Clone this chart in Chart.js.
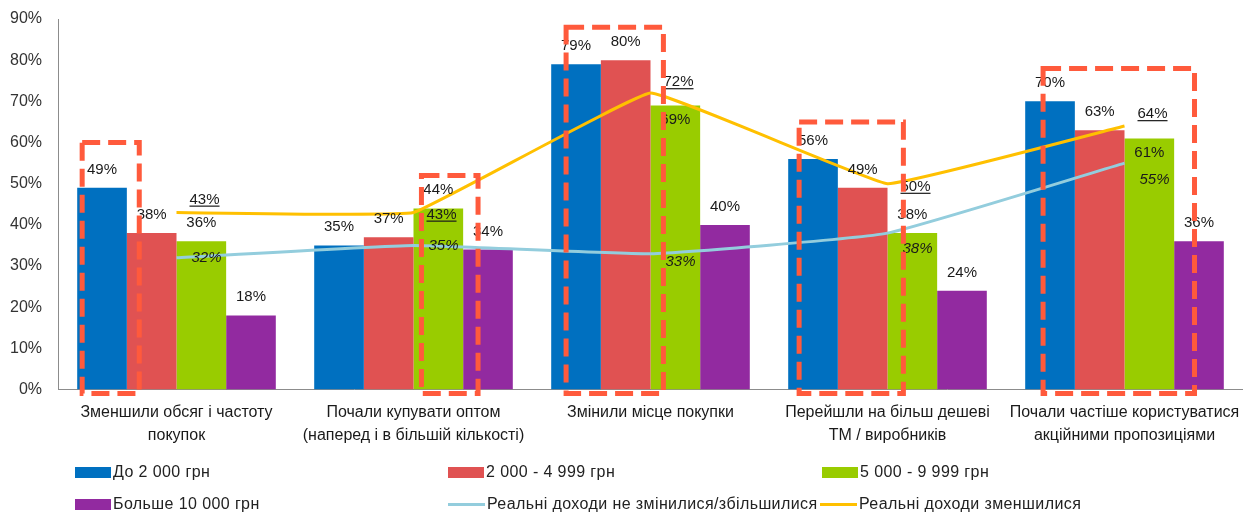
<!DOCTYPE html>
<html>
<head>
<meta charset="utf-8">
<script src="https://cdn.jsdelivr.net/npm/chart.js@4.4.0/dist/chart.umd.min.js"></script>
<style>
  body { margin: 0; background: #fff; font-family: "Liberation Sans", Arial, sans-serif; }
  #wrap { position: relative; width: 1243px; height: 514px; overflow: hidden; }
  #chartBox { position: absolute; left: 0; top: 0; width: 1243px; height: 462px; }
  #legend { position: absolute; left: 0; top: 0; width: 1243px; height: 514px; pointer-events: none; }
  .item { position: absolute; display: flex; align-items: center; font-size: 16px; letter-spacing: 0.4px; color: #222; white-space: nowrap; height: 20px; }
  .sw { display: inline-block; width: 36px; height: 11px; margin-right: 2px; }
  .ln { display: inline-block; width: 37px; height: 3px; margin-right: 2px; }
</style>
</head>
<body>
<div id="wrap">
  <div id="chartBox"><canvas id="chart"></canvas></div>
  <div id="legend"></div>
</div>
<script>
// categories and tick labels
const categories = [
  ["Зменшили обсяг і частоту", "покупок"],
  ["Почали купувати оптом", "(наперед і в більшій кількості)"],
  ["Змінили місце покупки"],
  ["Перейшли на більш дешеві", "ТМ / виробників"],
  ["Почали частіше користуватися", "акційними пропозиціями"]
];
const yTicks = [0, 10, 20, 30, 40, 50, 60, 70, 80, 90];

// series (percent)
const seriesNames = ["До 2 000 грн", "2 000 - 4 999 грн", "5 000 - 9 999 грн", "Больше 10 000 грн"];
const upTo2000 = [49, 35, 79, 56, 70];
const from2000 = [38, 37, 80, 49, 63];
const from5000 = [36, 44, 69, 38, 61];
const over10000 = [18, 34, 40, 24, 36];

const lineNames = ["Реальні доходи не змінилися/збільшилися", "Реальні доходи зменшилися"];
const incomeSame = [32, 35, 33, 38, 55];
const incomeDown = [43, 43, 72, 50, 64];

// dashed highlight boxes: category, span in bar widths from first bar, top value
const highlightCat = [0, 1, 2, 3, 4];
const highlightFrom = [0.1, 2.16, 0.3, 0.22, 0.36];
const highlightTo = [1.25, 3.3, 2.26, 2.32, 3.41];
const highlightTop = [60, 52, 88, 65, 78];

const BAR_COLORS = ["#0070C0", "#E05252", "#99CC00", "#922AA0"];
const LINE_COLORS = ["#93CDDD", "#FFC000"];
const BOX_COLOR = "#FF5A3C";
const FONT = '"Liberation Sans", Arial, sans-serif';

// label placement tweaks (px)
const blueDy = [0, 0, 8, 16, 17];
const yellowDy = [-9, 6, -7, 7, -8];
const greenInside = [2, 4]; // green bar labels drawn inside the bar top

const barSeries = [upTo2000, from2000, from5000, over10000];
const datasets = [
  { type: "line", label: lineNames[0], data: incomeSame, borderColor: LINE_COLORS[0], borderWidth: 3,
    pointRadius: 0, tension: 0.12, fill: false, order: 1 },
  { type: "line", label: lineNames[1], data: incomeDown, borderColor: LINE_COLORS[1], borderWidth: 3,
    pointRadius: 0, tension: 0.07, fill: false, order: 0 },
  ...barSeries.map((d, i) => ({
    type: "bar", label: seriesNames[i], data: d, backgroundColor: BAR_COLORS[i],
    categoryPercentage: 0.838, barPercentage: 1.0, order: 5
  }))
];

const valueLabels = {
  id: "valueLabels",
  afterDatasetsDraw(chart) {
    const ctx = chart.ctx;
    ctx.save();
    ctx.fillStyle = "#1a1a1a";
    chart.data.datasets.forEach((ds, i) => {
      const meta = chart.getDatasetMeta(i);
      meta.data.forEach((el, j) => {
        const txt = ds.data[j] + "%";
        if (ds.type === "bar") {
          ctx.font = "15px " + FONT;
          ctx.textAlign = "center";
          ctx.textBaseline = "alphabetic";
          const inside = i === 4 && greenInside.includes(j);
          ctx.fillText(txt, el.x, inside ? el.y + 19 : el.y - 14);
        } else if (i === 0) {
          ctx.font = "italic 15px " + FONT;
          ctx.textAlign = "left";
          ctx.textBaseline = "middle";
          ctx.fillText(txt, el.x + 15, el.y + blueDy[j]);
        } else {
          ctx.font = "15px " + FONT;
          ctx.textAlign = "left";
          ctx.textBaseline = "alphabetic";
          const x = el.x + 13, y = el.y + yellowDy[j];
          ctx.fillText(txt, x, y);
          const w = ctx.measureText(txt).width;
          ctx.fillRect(x, y + 2, w, 1.2);
        }
      });
    });
    ctx.restore();
  }
};

const highlightBoxes = {
  id: "highlightBoxes",
  afterDatasetsDraw(chart) {
    const ctx = chart.ctx;
    const yScale = chart.scales.y;
    const firstBars = chart.getDatasetMeta(2).data;
    ctx.save();
    ctx.strokeStyle = BOX_COLOR;
    ctx.lineWidth = 5;
    ctx.setLineDash([18, 8]);
    highlightCat.forEach((c, k) => {
      const bar = firstBars[c];
      const left0 = bar.x - bar.width / 2;
      const x1 = left0 + highlightFrom[k] * bar.width;
      const x2 = left0 + highlightTo[k] * bar.width;
      const y1 = yScale.getPixelForValue(highlightTop[k]);
      const y2 = yScale.getPixelForValue(0) + 4;
      ctx.strokeRect(x1, y1, x2 - x1, y2 - y1);
    });
    ctx.restore();
  }
};

new Chart(document.getElementById("chart"), {
  type: "bar",
  data: { labels: categories, datasets },
  options: {
    responsive: true,
    maintainAspectRatio: false,
    animation: false,
    layout: { padding: { left: 0, right: 0, top: 19, bottom: 4 } },
    plugins: { legend: { display: false }, tooltip: { enabled: false } },
    scales: {
      x: {
        grid: { display: false, drawTicks: false },
        border: { display: true, color: "#8c8c8c", width: 1 },
        afterFit(scale) { scale.paddingLeft = 0; scale.paddingRight = 0; },
        ticks: {
          color: "#1a1a1a", autoSkip: false, maxRotation: 0, padding: 11,
          font: { family: FONT, size: 16, lineHeight: 1.45 }
        }
      },
      y: {
        min: yTicks[0], max: yTicks[yTicks.length - 1],
        afterBuildTicks(scale) { scale.ticks = yTicks.map(v => ({ value: v })); },
        afterFit(scale) { scale.width = 58; scale.paddingTop = 0; scale.paddingBottom = 0; },
        grid: { display: false, drawTicks: false },
        border: { display: true, color: "#8c8c8c", width: 1 },
        ticks: {
          color: "#333", padding: 16,
          font: { family: FONT, size: 16 },
          callback: v => v + "%"
        }
      }
    }
  },
  plugins: [valueLabels, highlightBoxes]
});

// legend (html, three columns)
const legendItems = [
  { name: seriesNames[0], color: BAR_COLORS[0], kind: "sw", left: 75, top: 462 },
  { name: seriesNames[1], color: BAR_COLORS[1], kind: "sw", left: 448, top: 462 },
  { name: seriesNames[2], color: BAR_COLORS[2], kind: "sw", left: 822, top: 462 },
  { name: seriesNames[3], color: BAR_COLORS[3], kind: "sw", left: 75, top: 494 },
  { name: lineNames[0], color: LINE_COLORS[0], kind: "ln", left: 448, top: 494 },
  { name: lineNames[1], color: LINE_COLORS[1], kind: "ln", left: 820, top: 494 }
];
const legend = document.getElementById("legend");
legendItems.forEach(it => {
  const d = document.createElement("div");
  d.className = "item";
  d.style.left = it.left + "px";
  d.style.top = it.top + "px";
  const s = document.createElement("span");
  s.className = it.kind;
  s.style.background = it.color;
  d.appendChild(s);
  d.appendChild(document.createTextNode(it.name));
  legend.appendChild(d);
});
</script>
</body>
</html>
